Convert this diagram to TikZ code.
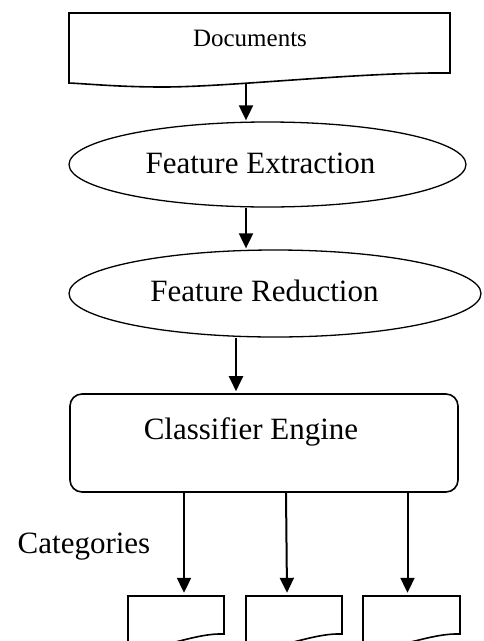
\documentclass[tikz,border=0pt]{standalone}
\usepackage{fontspec}
\setmainfont{Liberation Serif}
\usepackage{tikz}
\usetikzlibrary{arrows.meta,shapes.geometric}

\tikzset{
  arr/.style={line width=2pt,-{Triangle[length=15pt,width=14pt]}},
  outline/.style={line width=1.6pt},
  txt/.style={anchor=base,inner sep=0pt,font=\fontsize{31}{36}\selectfont},
  oval/.style={ellipse,draw,line width=1.3pt,inner sep=0pt},
  docbox/.style={rectangle,inner sep=0pt}
}

\begin{document}
\begin{tikzpicture}[x=1pt,y=-1pt]
\useasboundingbox (0,0) rectangle (483,641);

\node[docbox,minimum width=381pt,minimum height=70pt] (docs) at (259.5,48) {};
\draw[outline] (69,83) -- (69,13) -- (450,13) -- (450,73) .. controls (360,72) and (230,87) .. (163,87) .. controls (120,87) and (90,84) .. (69,83) -- cycle;
\node[txt,font=\fontsize{25}{30}\selectfont] (docstext) at (250,46.5) {Documents};

\node[oval,minimum width=397pt,minimum height=85pt] (fe) at (267.5,164.5) {};
\node[txt] (fetext) at (260.5,173.3) {Feature Extraction};

\node[oval,minimum width=412pt,minimum height=87pt] (fr) at (275,293.5) {};
\node[txt] (frtext) at (264.5,301.7) {Feature Reduction};

\node[draw,rounded corners=12pt,line width=1.6pt,minimum width=388pt,minimum height=98pt,inner sep=0pt] (cls) at (264,443) {};
\node[txt] (clstext) at (251,439) {Classifier Engine};

\node[txt] (catlabel) at (84,553) {Categories};

\draw[arr] ([xshift=-13.5pt]docs.south) -- ([xshift=-21.5pt,yshift=1pt]fe.north);
\draw[arr] ([xshift=-21.5pt]fe.south) -- ([xshift=-29pt,yshift=1pt]fr.north);
\draw[arr] ([xshift=-39pt]fr.south) -- ([xshift=-28pt,yshift=2pt]cls.north);

\foreach \l/\r/\ax/\bx [count=\i] in {128/224/184/184,246/342/286/287,363/460/407.5/407.5}{
  \node[docbox,minimum width={\r-\l},minimum height=48pt] (cat\i) at ({(\l+\r)/2},620) {};
  \draw[outline] (\l,646) -- (\l,596) -- (\r,596) -- (\r,634) .. controls ({\r-25},633) and ({\l+45},645) .. ({\l+24},646) .. controls ({\l+12},646) .. (\l,644);
  \draw[arr] ([xshift={\ax-264}]cls.south) -- ([xshift={\bx-(\l+\r)/2},yshift=3pt]cat\i.north);
}
\end{tikzpicture}
\end{document}
